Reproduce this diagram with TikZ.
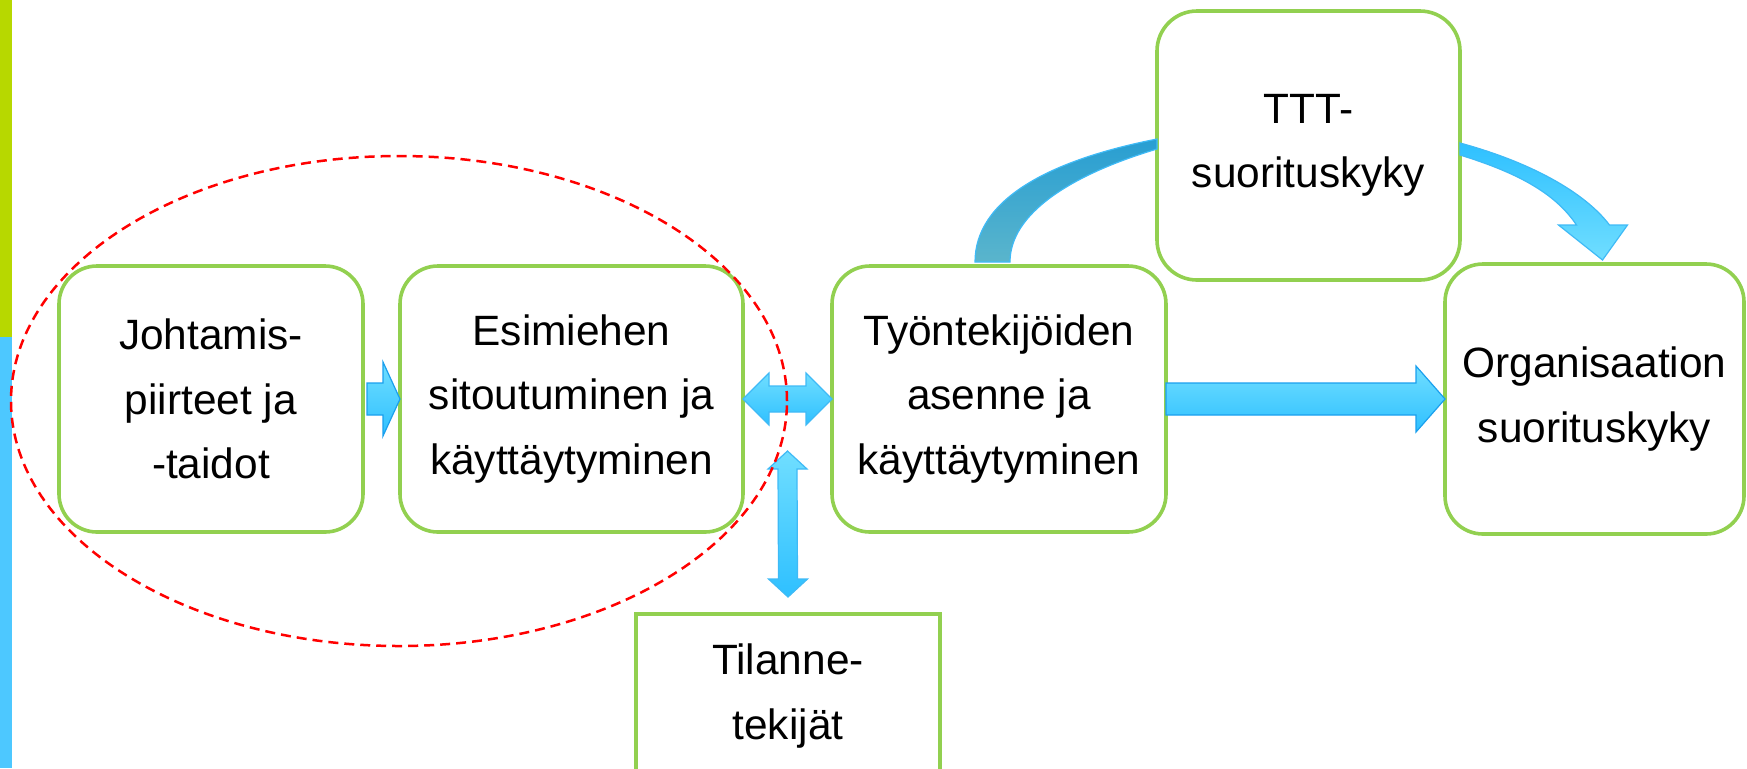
\documentclass[tikz,border=0pt]{standalone}
\usepackage{fontspec}
\setmainfont{Liberation Sans}
\usetikzlibrary{positioning,calc,shapes.geometric}
\definecolor{boxgreen}{HTML}{92D050}
\definecolor{bargreen}{HTML}{B7D800}
\definecolor{barblue}{HTML}{4DC8FF}
\definecolor{arrlight}{HTML}{70DEFF}
\definecolor{arrdeep}{HTML}{2EC0FF}
\definecolor{arredge}{HTML}{1AA0EE}
\definecolor{arrsoft}{HTML}{3FBAF6}
\definecolor{curvetop}{HTML}{289ED2}
\definecolor{curvebot}{HTML}{5AB5CC}
\definecolor{ovalred}{HTML}{FF0000}
\tikzset{
  box/.style={
    draw=boxgreen,
    line width=1.8pt,
    rounded corners=19pt,
    fill=white,
    align=center,
    font=\fontsize{21.2}{32.3}\selectfont,
    minimum height=133pt,
    inner sep=0pt,
    outer sep=0pt
  },
  plainbox/.style={
    box,
    rounded corners=0pt
  },
  fatarrow/.style={
    top color=arrlight,
    bottom color=arrdeep,
    draw=arredge,
    line width=0.6pt
  },
  softarrow/.style={
    fatarrow,
    draw=arrsoft
  },
  backarrow/.style={
    top color=curvetop,
    bottom color=curvebot,
    draw=arrsoft,
    line width=0.6pt
  },
  downarrow/.style={
    top color=arrdeep,
    bottom color=arrlight,
    draw=arrsoft,
    line width=0.6pt
  },
  oval/.style={
    ellipse,
    draw=ovalred,
    line width=1.25pt,
    dash pattern=on 5pt off 3pt,
    inner sep=0pt
  }
}

\begin{document}
\begin{tikzpicture}[x=0.5pt, y=-0.5pt]

\clip (0,0) rectangle (1747,768);

% side bar
\fill[bargreen] (0,0) rectangle (12,337);
\fill[barblue] (0,337) rectangle (12,768);

\node[box, minimum width=152pt] (johto) at (211,399) {Johtamis-\\piirteet ja\\-taidot};
\node[box, minimum width=171.5pt, right=18.5pt of johto] (esim) {Esimiehen\\sitoutuminen ja\\käyttäytyminen};
\node[box, minimum width=167pt, right=44.5pt of esim] (tyon) {Työntekijöiden\\asenne ja\\käyttäytyminen};
\node[box, minimum width=149.5pt, minimum height=135pt, right=139.5pt of tyon] (org) {Organisaation\\suorituskyky};
\node[box, minimum width=151.5pt, minimum height=134.5pt, rounded corners=20pt] (ttt) at (1308.5,145.5) {TTT-\\suorituskyky};
\node[plainbox, minimum width=152pt, minimum height=82pt] (tila) at (788,696) {Tilanne-\\tekijät};

\coordinate (mid) at ($(esim.east)!0.5!(tyon.west)$);
\coordinate (vtop) at ($(mid)+(0,52)$);
\coordinate (vbot) at ($(tila.north)+(0,-17)$);
\coordinate (orgtip) at ($(org.north)+(8,-4)$);

% johto -> esim
\draw[fatarrow] ($(johto.east)+(4,-16)$) -- ($(esim.west)+(-17,-16)$) -- ++(0,-21)
  -- (esim.west) -- ++(-17,37) -- ++(0,-21) -- ($(johto.east)+(4,16)$) -- cycle;

% esim <-> tyon
\draw[softarrow] (esim.east) -- ++(26,-26) -- ++(0,13) -- ($(tyon.west)+(-26,-13)$) -- ++(0,-13)
  -- (tyon.west) -- ++(-26,26) -- ++(0,-13) -- ($(esim.east)+(26,13)$) -- ++(0,13) -- cycle;

% tilanne <-> mid
\draw[softarrow] (vtop) -- ++(19.5,18) -- ++(-10,0) -- ($(vbot)+(9.5,-18)$) -- ++(10,0)
  -- (vbot) -- ++(-19.5,-18) -- ++(10,0) -- ($(vtop)+(-9.5,18)$) -- ++(-10,0) -- cycle;

% tyon -> org
\draw[fatarrow] ($(tyon.east)+(0,-16)$) -- ($(org.west)+(-29,-16)$) -- ++(0,-17)
  -- (org.west) -- ++(-29,33) -- ++(0,-17) -- ($(tyon.east)+(0,16)$) -- cycle;

% tyon -> ttt
\draw[backarrow] ($(tyon.north)+(-24,-4)$)
  .. controls ($(tyon.north)+(-24,-67)$) and ($(ttt.west)+(-107,14.5)$) .. ($(ttt.west)+(0,-6.5)$)
  -- ($(ttt.west)+(0,3.5)$)
  .. controls ($(ttt.west)+(-87,29.5)$) and ($(tyon.north)+(11,-52)$) .. ($(tyon.north)+(11,-4)$)
  -- cycle;

% ttt -> org
\draw[downarrow] ($(ttt.east)+(0,-2.5)$)
  .. controls ($(ttt.east)+(70,16.5)$) and ($(orgtip)+(-18,-68)$) .. ($(orgtip)+(7,-35)$)
  -- ($(orgtip)+(25,-35)$) -- (orgtip) -- ($(orgtip)+(-44,-35)$) -- ($(orgtip)+(-26,-35)$)
  .. controls ($(orgtip)+(-48,-68)$) and ($(ttt.east)+(55,26.5)$) .. ($(ttt.east)+(0,9.5)$)
  -- cycle;

\node[oval, minimum width=388pt, minimum height=245pt] (focus) at (399,401) {};

\end{tikzpicture}
\end{document}
